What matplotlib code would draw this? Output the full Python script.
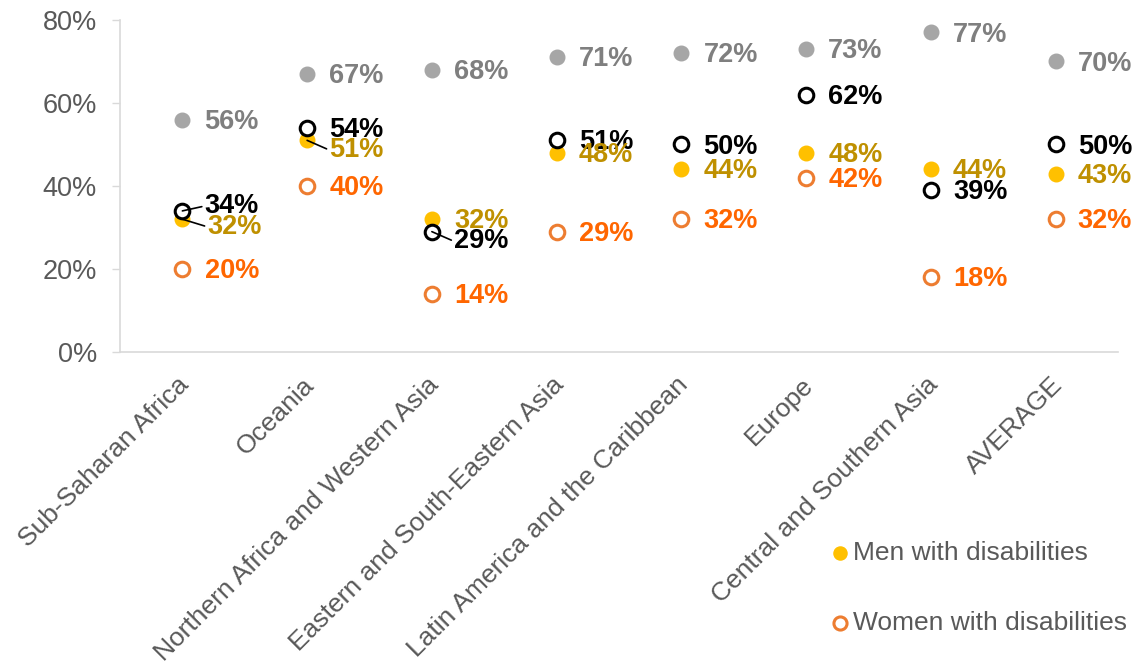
import matplotlib
matplotlib.use("Agg")
import matplotlib.pyplot as plt
from matplotlib.ticker import FuncFormatter, MultipleLocator
from matplotlib.transforms import ScaledTranslation

plt.rcParams['font.family'] = ['Liberation Sans', 'DejaVu Sans']

regions = ["Sub-Saharan Africa", "Oceania", "Northern Africa and Western Asia",
           "Eastern and South-Eastern Asia", "Latin America and the Caribbean",
           "Europe", "Central and Southern Asia", "AVERAGE"]
without_disab = [56, 67, 68, 71, 72, 73, 77, 70]
with_disab = [34, 54, 29, 51, 50, 62, 39, 50]
men_disab = [32, 51, 32, 48, 44, 48, 44, 43]
women_disab = [20, 40, 14, 29, 32, 42, 18, 32]

# label nudges (dx, dy in points) for crowded points, keyed by (series, index)
nudges = {
    ("with", 0): (16, 3.5),
    ("men", 0): (18, -5.5),
    ("men", 1): (16, -7),
    ("with", 2): (16, -7),
}

fig = plt.figure(figsize=(11.36, 6.67), dpi=100)
ax = fig.add_axes([120 / 1136, 315 / 667, 998 / 1136, 332 / 667])

x = list(range(len(regions)))
grey, gold, orange = "#A6A6A6", "#FFC000", "#ED7D31"

ax.scatter(x, without_disab, s=110, color=grey, zorder=3)
ax.scatter(x, with_disab, s=110, facecolor="white", edgecolor="black", linewidth=2.2, zorder=4)
h_men = ax.scatter(x, men_disab, s=110, color=gold, zorder=3)
h_women = ax.scatter(x, women_disab, s=110, facecolor="white", edgecolor=orange, linewidth=2.2, zorder=3)

series = [("without", without_disab, "#7F7F7F"),
          ("with", with_disab, "black"),
          ("men", men_disab, "#BF9000"),
          ("women", women_disab, "#FF6600")]

for key, vals, col in series:
    for i, v in enumerate(vals):
        dx, dy = nudges.get((key, i), (16, -1.5))
        lead = (key, i) in nudges
        ax.annotate(f"{v}%", xy=(i, v), xytext=(dx, dy), textcoords="offset points",
                    ha="left", va="center", fontsize=19.5, fontweight="bold", color=col,
                    zorder=5,
                    arrowprops=dict(arrowstyle="-", color="black", lw=1.2,
                                    shrinkA=0, shrinkB=0, relpos=(0, 0.5)) if lead else None)

ax.set_xlim(-0.5, len(regions) - 0.5)
ax.set_ylim(0, 80)
ax.yaxis.set_major_locator(MultipleLocator(20))
ax.yaxis.set_major_formatter(FuncFormatter(lambda v, p: f"{v:.0f}%"))
ax.set_xticks(x)
ax.set_xticklabels([])
ax.tick_params(axis="x", length=0)
ax.tick_params(axis="y", length=6, width=1, color="#D9D9D9", labelsize=19.5,
               labelcolor="#595959", pad=10.5, direction="out")

# rotated category labels, anchored just below each category
label_tf = ax.get_xaxis_transform() + ScaledTranslation(3 / 100, -29 / 100, fig.dpi_scale_trans)
for i, name in zip(x, regions):
    ax.text(i, 0, name, transform=label_tf, rotation=45, rotation_mode="anchor",
            ha="right", va="center", fontsize=19, color="#595959", clip_on=False)

for side in ("top", "right"):
    ax.spines[side].set_visible(False)
for side in ("left", "bottom"):
    ax.spines[side].set_color("#D9D9D9")
    ax.spines[side].set_linewidth(1.2)

fig.legend([h_men, h_women], ["Men with disabilities", "Women with disabilities"],
           loc="upper left", bbox_to_anchor=(803 / 1136, 1 - 517 / 667),
           frameon=False, fontsize=19, labelcolor="#595959",
           handletextpad=0.0, handlelength=1.0, labelspacing=1.75, markerscale=0.9)

fig.savefig("out.png", dpi=100, facecolor="white")
